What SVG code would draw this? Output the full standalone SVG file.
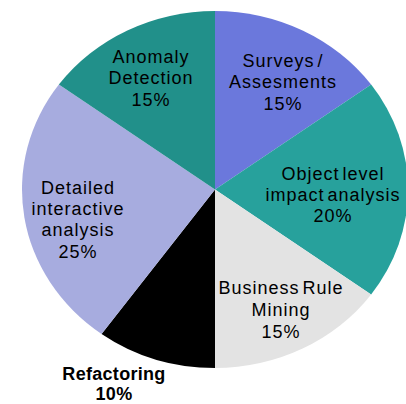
<svg xmlns="http://www.w3.org/2000/svg" width="406" height="404" viewBox="0 0 406 404">
<style>
text{font-family:"Liberation Sans",Arial,sans-serif;font-size:18px;fill:#000;text-anchor:middle;letter-spacing:1px;word-spacing:-3px}
.b{font-weight:bold;letter-spacing:0.3px}
</style>
<rect width="406" height="404" fill="#fff"/>
<g id="surveys">
<path d="M215,189.5 L215,11 A193,178.5 0 0 1 371.14,84.57 Z" fill="#6b78dc"/>
<text x="283" y="67">Surveys /</text>
<text x="283" y="88">Assesments</text>
<text x="283" y="110">15%</text>
</g>
<g id="object">
<path d="M215,189.5 L371.14,84.57 A193,178.5 0 0 1 371.14,294.43 Z" fill="#27a19c"/>
<text x="333" y="180">Object level</text>
<text x="333" y="201">impact analysis</text>
<text x="333" y="222">20%</text>
</g>
<g id="business">
<path d="M215,189.5 L371.14,294.43 A193,178.5 0 0 1 215,368 Z" fill="#e3e3e3"/>
<text x="281" y="294">Business Rule</text>
<text x="281" y="316">Mining</text>
<text x="281" y="338">15%</text>
</g>
<g id="refactoring">
<path d="M215,189.5 L215,368 A193,178.5 0 0 1 101.56,333.9 Z" fill="#000"/>
<text class="b" x="114" y="380">Refactoring</text>
<text class="b" x="114" y="400">10%</text>
</g>
<g id="detailed">
<path d="M215,189.5 L101.56,333.9 A193,178.5 0 0 1 58.86,84.57 Z" fill="#a7acdf"/>
<text x="78" y="194">Detailed</text>
<text x="78" y="215">interactive</text>
<text x="78" y="236">analysis</text>
<text x="78" y="258">25%</text>
</g>
<g id="anomaly">
<path d="M215,189.5 L58.86,84.57 A193,178.5 0 0 1 215,11 Z" fill="#21908a"/>
<text x="151" y="63">Anomaly</text>
<text x="151" y="84">Detection</text>
<text x="151" y="106">15%</text>
</g>
<g id="connectors"/>
</svg>
